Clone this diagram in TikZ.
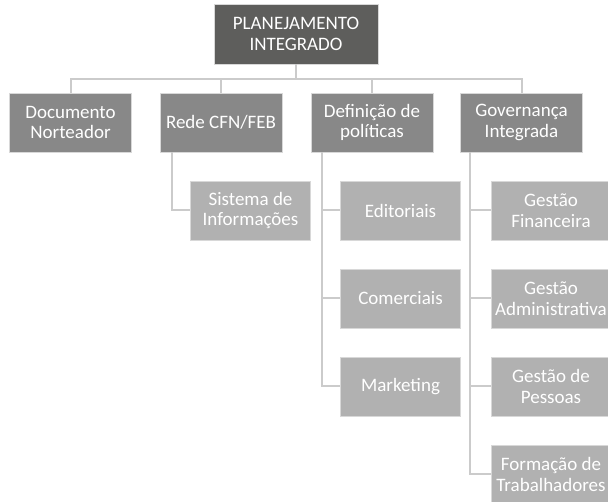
\documentclass[tikz,border=0pt]{standalone}
\usepackage{fontspec}
\setmainfont{Carlito}
\definecolor{topc}{HTML}{5E5E5C}
\definecolor{midc}{HTML}{888888}
\definecolor{lowc}{HTML}{B1B1B1}
\definecolor{linec}{HTML}{CBCBCB}
\definecolor{edgec}{HTML}{D8D8D8}
\begin{document}
\begin{tikzpicture}[x=1pt,y=-1pt,
  box/.style={inner sep=0pt, text=white, align=center,
    font=\fontsize{19}{20.5}\selectfont, draw=edgec, line width=0.6pt},
  topbox/.style={box, fill=topc, minimum width=164pt, minimum height=60pt},
  midbox/.style={box, fill=midc, minimum width=122pt, minimum height=59pt},
  lowbox/.style={box, fill=lowc, minimum width=120pt, minimum height=59pt},
  conn/.style={draw=linec, line width=2pt}]
\useasboundingbox (0,0) rectangle (608,502);
\clip (0,0) rectangle (608,502);
\fill[white] (0,0) rectangle (608,502);

\node[topbox] (top) at (296,34) {PLANEJAMENTO\\INTEGRADO};

\node[midbox] (doc) at (70.5,122.5) {Documento\\Norteador};
\node[midbox] (rede) at (221,122.5) {Rede CFN/FEB};
\node[midbox] (def) at (372,122.5) {Definição de\\políticas};
\node[midbox] (gov) at (521.5,122.5) {Governança\\Integrada};

\node[lowbox] (sis) at (250.5,210.5) {Sistema de\\Informações};

\node[lowbox] (edit) at (400.5,210.5) {Editoriais};
\node[lowbox] (com) at (400.5,298.5) {Comerciais};
\node[lowbox] (mkt) at (400.5,386.5) {Marketing};

\node[lowbox] (gf) at (551,210.5) {Gestão\\Financeira};
\node[lowbox] (ga) at (551,298.5) {Gestão\\Administrativa};
\node[lowbox] (gp) at (551,386.5) {Gestão de\\Pessoas};
\node[lowbox] (ft) at (551,474.5) {Formação de\\Trabalhadores};

% top level bus
\draw[conn] (top.south) -- ++(0,15) coordinate (bus);
\draw[conn] (doc.north) |- (bus) -| (gov.north);
\draw[conn] (rede.north) -- (rede.north |- bus);
\draw[conn] (def.north) -- (def.north |- bus);

% Rede branch
\draw[conn] ([xshift=12pt]rede.south west) |- (sis.west);

% Definicao branch
\draw[conn] ([xshift=11pt]def.south west) |- (mkt.west);
\draw[conn] ([xshift=11pt]def.south west |- edit.west) -- (edit.west);
\draw[conn] ([xshift=11pt]def.south west |- com.west) -- (com.west);

% Governanca branch
\draw[conn] ([xshift=10pt]gov.south west) |- (ft.west);
\draw[conn] ([xshift=10pt]gov.south west |- gf.west) -- (gf.west);
\draw[conn] ([xshift=10pt]gov.south west |- ga.west) -- (ga.west);
\draw[conn] ([xshift=10pt]gov.south west |- gp.west) -- (gp.west);
\end{tikzpicture}
\end{document}
